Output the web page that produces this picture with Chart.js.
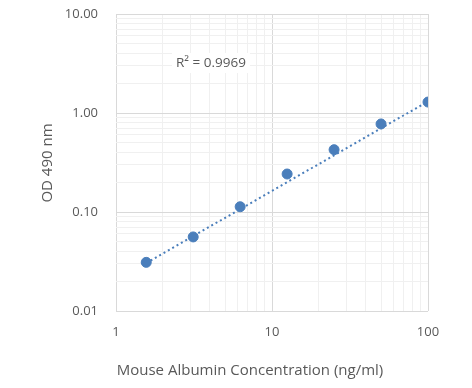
<!DOCTYPE html>
<html>
<head>
<meta charset="utf-8">
<script src="https://cdn.jsdelivr.net/npm/chart.js@4.4.1/dist/chart.umd.min.js"></script>
<style>
  html, body { margin: 0; padding: 0; background: #fff; }
  #wrap { width: 472px; height: 388px; position: relative; }
</style>
</head>
<body>
<div id="wrap"><canvas id="std-curve"></canvas></div>
<script>
// standard curve points
var concentration = [1.5625, 3.125, 6.25, 12.5, 25, 50, 100];
var od490 = [0.031, 0.056, 0.113, 0.242, 0.426, 0.775, 1.29];

// power trendline ends
var trendX = [1.5625, 100];
var trendY = [0.0305, 1.31];

var xTickLabels = [1, 10, 100];
var yTickLabels = [0.01, 0.1, 1, 10];
var r2Label = "R\u00b2 = 0.9969";
var xTitle = "Mouse Albumin Concentration (ng/ml)";
var yTitle = "OD 490 nm";

var TEXT = "#595959";
var BLUE = "#4a7ebb";
var FONT = "'Open Sans', 'Liberation Sans', sans-serif";

function logTicks(min, max) {
    var out = [];
    for (var d = min; d < max; d *= 10) {
        for (var k = 1; k < 10; k++) out.push({ value: +(d * k).toPrecision(3) });
    }
    out.push({ value: max });
    return out;
}

function isMajor(v, list) {
    for (var i = 0; i < list.length; i++) {
        if (Math.abs(v - list[i]) < list[i] * 1e-6) return true;
    }
    return false;
}

var textPlugin = {
    id: 'texts',
    afterDraw: function (chart) {
        var ctx = chart.ctx;
        ctx.save();
        ctx.fillStyle = TEXT;
        ctx.textBaseline = 'middle';
        ctx.textAlign = 'center';
        ctx.font = "15px " + FONT;
        ctx.fillText(xTitle, 250, 371);
        ctx.translate(48, 163);
        ctx.rotate(-Math.PI / 2);
        ctx.fillText(yTitle, 0, 0);
        ctx.restore();

        // R² label with white box
        ctx.save();
        ctx.font = "13.5px " + FONT;
        ctx.textBaseline = 'middle';
        ctx.textAlign = 'left';
        var w = ctx.measureText(r2Label).width;
        ctx.fillStyle = "#fff";
        ctx.fillRect(172, 53, w + 8, 20);
        ctx.fillStyle = TEXT;
        ctx.fillText(r2Label, 176, 63);
        ctx.restore();
    }
};

var config = {
    type: 'scatter',
    data: {
        datasets: [{
            label: 'trend',
            type: 'line',
            data: trendX.map(function (x, i) { return { x: x, y: trendY[i] }; }),
            borderColor: BLUE,
            borderWidth: 2,
            borderDash: [2, 3],
            pointRadius: 0,
            fill: false,
            order: 2
        }, {
            label: 'OD',
            data: concentration.map(function (x, i) { return { x: x, y: od490[i] }; }),
            backgroundColor: BLUE,
            borderColor: BLUE,
            pointRadius: 5,
            pointHoverRadius: 5,
            order: 1
        }]
    },
    options: {
        responsive: true,
        maintainAspectRatio: false,
        animation: false,
        layout: { padding: { top: 14, right: 44, left: 0, bottom: 0 } },
        plugins: {
            legend: { display: false },
            tooltip: { enabled: false }
        },
        scales: {
            x: {
                type: 'logarithmic',
                min: 1,
                max: 100,
                afterBuildTicks: function (axis) { axis.ticks = logTicks(1, 100); },
                afterFit: function (axis) {
                    axis.height = 77;
                    axis.paddingLeft = 0;
                    axis.paddingRight = 0;
                },
                grid: {
                    drawTicks: false,
                    color: function (c) { return isMajor(c.tick.value, xTickLabels) ? '#d9d9d9' : '#f0f0f0'; }
                },
                border: { display: false },
                ticks: {
                    autoSkip: false,
                    maxRotation: 0,
                    padding: 13,
                    color: TEXT,
                    font: { family: FONT, size: 13 },
                    callback: function (v) { return isMajor(v, xTickLabels) ? String(v) : ''; }
                }
            },
            y: {
                type: 'logarithmic',
                min: 0.01,
                max: 10,
                afterBuildTicks: function (axis) { axis.ticks = logTicks(0.01, 10); },
                afterFit: function (axis) {
                    axis.width = 116;
                    axis.paddingTop = 0;
                    axis.paddingBottom = 0;
                },
                grid: {
                    drawTicks: false,
                    color: function (c) { return isMajor(c.tick.value, yTickLabels) ? '#d9d9d9' : '#f0f0f0'; }
                },
                border: { display: false },
                ticks: {
                    autoSkip: false,
                    padding: 18,
                    color: TEXT,
                    font: { family: FONT, size: 13 },
                    callback: function (v) { return isMajor(v, yTickLabels) ? v.toFixed(2) : ''; }
                }
            }
        }
    },
    plugins: [textPlugin]
};

window.addEventListener('load', function () {
    var ctx = document.getElementById('std-curve').getContext('2d');
    new Chart(ctx, config);
});
</script>
</body>
</html>
